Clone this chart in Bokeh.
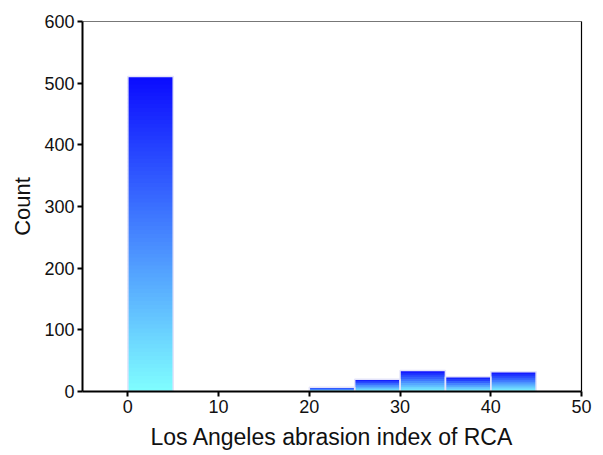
import numpy as np
from bokeh.plotting import figure
from bokeh.models import LinearAxis, FixedTicker, ColumnDataSource
from bokeh.embed import file_html
from bokeh.resources import INLINE

# Data
bin_left = [0, 5, 10, 15, 20, 25, 30, 35, 40]
bin_right = [5, 10, 15, 20, 25, 30, 35, 40, 45]
counts = [511, 0, 0, 0, 7, 20, 34, 24, 32]
x_ticks = [0, 10, 20, 30, 40, 50]
y_ticks = [0, 100, 200, 300, 400, 500, 600]

top_rgb = np.array([10, 10, 255])
bot_rgb = np.array([128, 255, 255])

p = figure(frame_width=499, frame_height=370, output_backend="svg",
           toolbar_location=None, x_range=(-5, 50), y_range=(0, 600),
           min_border_left=82, min_border_right=22, min_border_top=21,
           min_border_bottom=64, background_fill_color="white",
           border_fill_color="white")
p.outline_line_color = None
p.xgrid.visible = False
p.ygrid.visible = False

# gradient bars: each bar split into slices, coloured from cyan (bottom) to blue (top)
L, R, B, T, C = [], [], [], [], []
for l, r, c in zip(bin_left, bin_right, counts):
    if c <= 0:
        continue
    N = int(min(80, max(3, round(c * 0.3))))
    for i in range(N):
        f0, f1 = i / N, (i + 1) / N
        fm = (f0 + f1) / 2
        rgb = bot_rgb + (top_rgb - bot_rgb) * fm
        L.append(l); R.append(r); B.append(c * f0)
        T.append(c * min(1.0, f1 + 0.5 / N))
        C.append("#%02x%02x%02x" % tuple(int(round(v)) for v in rgb))
src = ColumnDataSource(dict(left=L, right=R, bottom=B, top=T, color=C))
p.quad(left="left", right="right", bottom="bottom", top="top", source=src,
       fill_color="color", line_color=None)

nz = [i for i, c in enumerate(counts) if c > 0]
p.quad(left=[bin_left[i] for i in nz], right=[bin_right[i] for i in nz],
       bottom=0, top=[counts[i] for i in nz], fill_color=None,
       line_color="#e4e4fa", line_width=1.5)

font = "Liberation Sans"
for ax, ticks in ((p.xaxis[0], x_ticks), (p.yaxis[0], y_ticks)):
    ax.ticker = FixedTicker(ticks=ticks)
    ax.minor_tick_line_color = None
    ax.major_tick_in = 0
    ax.major_tick_out = 5
    ax.major_tick_line_width = 2
    ax.axis_line_width = 2
    ax.axis_line_color = "black"
    ax.major_tick_line_color = "black"
    ax.major_label_text_font = font
    ax.major_label_text_font_size = "18px"
    ax.major_label_text_color = "#111111"
    ax.axis_label_text_font = font
    ax.axis_label_text_font_size = "23px"
    ax.axis_label_text_font_style = "normal"
    ax.axis_label_text_color = "#111111"

p.yaxis.axis_label_text_font_size = "22px"
p.xaxis.axis_label = "Los Angeles abrasion index of RCA"
p.yaxis.axis_label = "Count"
p.xaxis.major_label_standoff = 3
p.xaxis.axis_label_standoff = 8
p.yaxis.major_label_standoff = 3
p.yaxis.axis_label_standoff = 6

right = LinearAxis(ticker=FixedTicker(ticks=[]), major_tick_line_color=None,
                   minor_tick_line_color=None, axis_line_color="black",
                   axis_line_width=1.2)
top = LinearAxis(ticker=FixedTicker(ticks=[]), major_tick_line_color=None,
                 minor_tick_line_color=None, axis_line_color="#777777",
                 axis_line_width=1.2)
p.add_layout(right, "right")
p.add_layout(top, "above")

open("out.html", "w").write(file_html(p, INLINE))
